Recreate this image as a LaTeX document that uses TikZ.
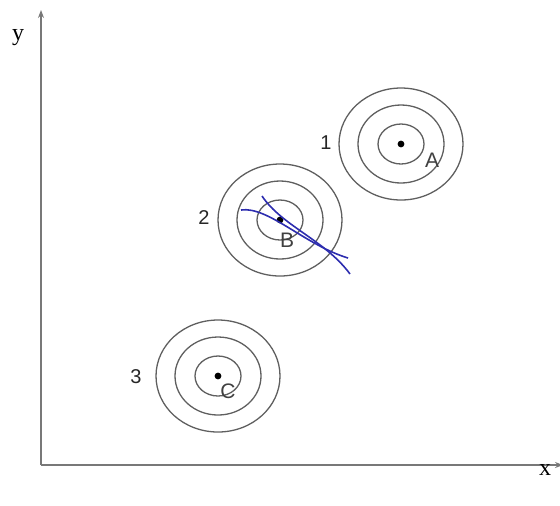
\documentclass[tikz,border=0pt]{standalone}
\usepackage{fontspec}
\setmainfont{Liberation Serif}
\setsansfont{Liberation Sans}
\usetikzlibrary{arrows.meta, positioning}
\definecolor{AxGray}{RGB}{120,120,120}
\definecolor{RingGray}{RGB}{95,95,95}
\definecolor{PathBlue}{RGB}{45,45,175}

\begin{document}
\begin{tikzpicture}[x=0.5pt, y=-0.5pt,
          ring/.style={RingGray, line width=0.65pt},
          pt/.style={circle, fill=black, inner sep=0pt, minimum size=3.4pt},
          num/.style={font=\sffamily\fontsize{10}{12}\selectfont, text=black!85},
          let/.style={font=\sffamily\fontsize{10.5}{12}\selectfont, text=black!75},
          ax/.style={AxGray, line width=0.6pt, -{Stealth[length=4pt, width=3pt]}},
          trk/.style={PathBlue, line width=0.8pt}
        ]
        \useasboundingbox (0,0) rectangle (560,505);
        % Axes
        \coordinate (O)    at (41,465);
        \coordinate (ytop) at (41,10);
        \coordinate (xend) at (563,465);
        \draw[ax] (O) -- (ytop);
        \draw[ax] (O) -- (xend);
        \node[font=\fontsize{12}{14}\selectfont] (ylab) at (18,38) {y};
        \node[font=\fontsize{12}{14}\selectfont] (xlab) at (545,470) {x};

        % Centres
        \node[pt] (ptA) at (401,144) {};
        \node[pt] (ptB) at (280,220) {};
        \node[pt] (ptC) at (218,376) {};

        % Rings
        \foreach \c in {ptA, ptB, ptC} {
          \draw[ring] (\c) ellipse [x radius=62, y radius=56];
          \draw[ring] (\c) ellipse [x radius=43, y radius=39];
          \draw[ring] (\c) ellipse [x radius=23, y radius=20];
        }

        % Numbers
        \node[num] (n1) at (326,143) {1};
        \node[num] (n2) at (204,218) {2};
        \node[num] (n3) at (136,377) {3};
        % Letters
        \node[let] (lA) at (432,160) {A};
        \node[let] (lB) at (287,240) {B};
        \node[let] (lC) at (228,391) {C};

        % Tracks through B
        \coordinate (t1s) at (241,210);
        \coordinate (t1e) at (348,258);
        \coordinate (t2s) at (262,196);
        \coordinate (t2e) at (350,274);
        \draw[trk] (t1s) .. controls (268,206) and (305,245) .. (t1e);
        \draw[trk] (t2s) .. controls (282,226) and (325,240) .. (t2e);
      \end{tikzpicture}
\end{document}
